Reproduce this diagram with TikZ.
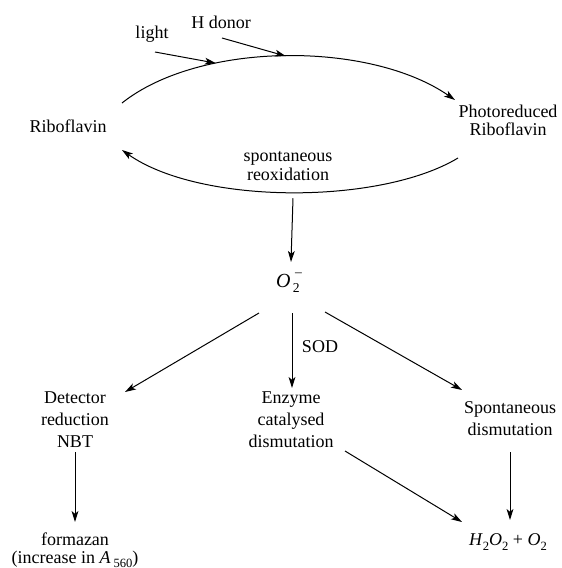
\documentclass[tikz,border=0pt]{standalone}
\usepackage{fontspec}
\setmainfont{Liberation Serif}
\usetikzlibrary{arrows.meta,calc}
\newcommand{\sbs}[1]{\raisebox{-0.55ex}{\fontsize{6.3}{7}\selectfont #1}}
\tikzset{
  lbl/.style={inner sep=0pt,align=center,font=\fontsize{9}{11}\selectfont},
  arr/.style={line width=0.5pt,-{Stealth[length=5.5pt,width=3.4pt,inset=1.4pt]}}
}
\begin{document}
\begin{tikzpicture}[x=0.5pt,y=-0.5pt]
\useasboundingbox (0,0) rectangle (562,568);
% nodes
\node[lbl] (rib) at (68,126) {Riboflavin};
\node[lbl,font=\fontsize{9}{9}\selectfont] (prib) at (508,120) {Photoreduced\\Riboflavin};
\node[lbl] (light) at (152,34) {light};
\node[lbl] (hdon) at (221,22) {H donor};
\node[lbl,font=\fontsize{9}{6.6}\selectfont] (reox) at (288,166) {spontaneous\\reoxidation};
\node[lbl,font=\fontsize{10}{11}\selectfont] (o2) at (288,283) {\textit{O}\makebox[0pt][l]{\raisebox{1.2ex}{\fontsize{6.8}{7}\selectfont\,\,–}}\raisebox{-0.55ex}{\fontsize{6.8}{7}\selectfont\,2}};
\node[lbl] (sod) at (320,347) {SOD};
\node[lbl] (det) at (75,420) {Detector\\reduction\\NBT};
\node[lbl] (enz) at (291,420) {Enzyme\\catalysed\\dismutation};
\node[lbl] (spd) at (510,419) {Spontaneous\\dismutation};
\node[lbl,font=\fontsize{9}{9}\selectfont] (form) at (75,550) {formazan\\(increase in \textit{A}\,\sbs{560})};
\node[lbl] (prod) at (508,542) {\textit{H}\sbs{2}\textit{O}\sbs{2} + \textit{O}\sbs{2}};
% upper arc
\draw[arr] ($(rib)+(54,-23)$) .. controls (200,41) and (370,41) .. ($(prib)+(-53,-20)$)
  coordinate[pos=0.31] (lt) coordinate[pos=0.5] (ht);
% lower arc
\draw[arr] ($(prib)+(-50,38)$) .. controls (380,205) and (200,205) .. ($(rib)+(54,24)$)
  coordinate[pos=0.5] (bot);
% inputs
\draw[arr] ($(light)+(3,18)$) -- (lt);
\draw[arr] ($(hdon)+(1,16)$) -- (ht);
% down to superoxide
\draw[arr] ($(bot)+(3,6)$) -- ($(o2)+(3,-21)$);
% branches
\draw[arr] ($(o2)+(-29,30)$) -- ($(det)+(50,-28)$);
\draw[arr] ($(o2)+(4,30)$) -- ($(enz)+(1,-32)$);
\draw[arr] ($(o2)+(37,29)$) -- ($(spd)+(-48,-29)$);
\draw[arr] ($(det)+(0,32)$) -- ($(form)+(0,-28)$);
\draw[arr] ($(enz)+(54,31)$) -- ($(prod)+(-46,-20)$);
\draw[arr] ($(spd)+(0,33)$) -- ($(prod)+(2,-22)$);
\end{tikzpicture}
\end{document}
